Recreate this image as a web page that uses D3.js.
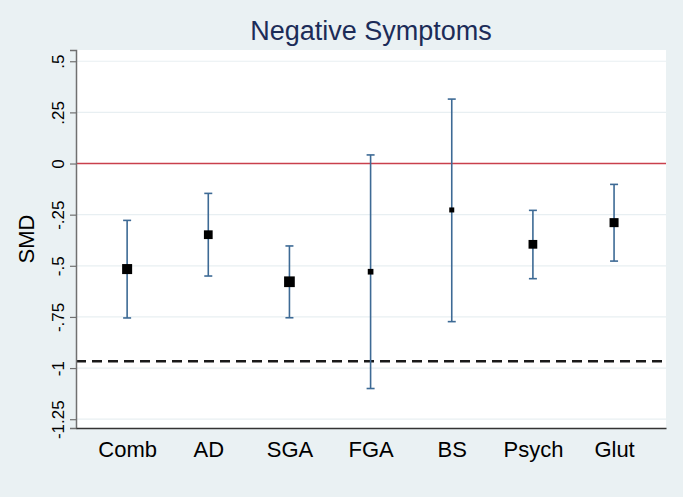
<!DOCTYPE html>
<html>
<head>
<meta charset="utf-8">
<script src="https://cdn.jsdelivr.net/npm/d3@7"></script>
<style>
  html, body { margin: 0; padding: 0; background: #eaf1f3; }
  #chart { width: 683px; height: 497px; }
  text { font-family: "Liberation Sans", Arial, Helvetica, sans-serif; }
</style>
</head>
<body>
<div id="chart"></div>
<script>
// groups along the x axis
const categories = ["Comb", "AD", "SGA", "FGA", "BS", "Psych", "Glut"];
// pooled SMD with its confidence interval
const smd   = [-0.516, -0.348, -0.578, -0.529, -0.227, -0.395, -0.289];
const lower = [-0.755, -0.550, -0.754, -1.100, -0.773, -0.563, -0.477];
const upper = [-0.278, -0.146, -0.403,  0.042,  0.315, -0.229, -0.102];
// relative weight of each estimate (marker area)
const weights = [100, 76, 114, 32, 25, 76, 81];
// reference lines
const nullValue = 0;
const dashedValue = -0.967;
// y axis ticks
const yTicks = [0.5, 0.25, 0, -0.25, -0.5, -0.75, -1, -1.25];
const yTickLabels = [".5", ".25", "0", "-.25", "-.5", "-.75", "-1", "-1.25"];

function drawChart(container) {
    const width = 683, height = 497,
          margin = {top: 50, right: 17, bottom: 69, left: 76},
          innerWidth = width - margin.left - margin.right,
          innerHeight = height - margin.top - margin.bottom;

    const svg = d3.select(container).append("svg")
        .attr("width", width)
        .attr("height", height);

    svg.append("rect")
        .attr("width", width).attr("height", height)
        .attr("fill", "#eaf1f3");

    const viz = svg.append("g")
        .attr("transform", `translate(${margin.left},${margin.top})`);

    viz.append("rect")
        .attr("width", innerWidth).attr("height", innerHeight)
        .attr("fill", "#ffffff");

    const x = d3.scaleLinear()
        .domain([0.37, 7.64])
        .range([0, innerWidth]);

    const y = d3.scaleLinear()
        .domain([-1.293, 0.555])
        .range([innerHeight, 0]);

    const size = d3.scaleSqrt()
        .domain([0, d3.max(weights)])
        .range([0, 10.7]);

    // gridlines
    viz.append("g").selectAll("line")
        .data(yTicks)
        .enter().append("line")
        .attr("x1", 0).attr("x2", innerWidth)
        .attr("y1", d => y(d)).attr("y2", d => y(d))
        .attr("stroke", "#e8eff2")
        .attr("stroke-width", 1.2);

    // reference lines
    viz.append("line")
        .attr("x1", 0).attr("x2", innerWidth)
        .attr("y1", y(nullValue)).attr("y2", y(nullValue))
        .attr("stroke", "#c9404d")
        .attr("stroke-width", 1.5);

    viz.append("line")
        .attr("x1", 0).attr("x2", innerWidth)
        .attr("y1", y(dashedValue)).attr("y2", y(dashedValue))
        .attr("stroke", "#1a1a1a")
        .attr("stroke-width", 2.4)
        .attr("stroke-dasharray", "10,6");

    // y axis
    const yAxis = d3.axisLeft(y)
        .tickValues(yTicks)
        .tickFormat((d, i) => yTickLabels[i])
        .tickSize(6)
        .tickPadding(0);

    const ya = viz.append("g").call(yAxis);
    ya.select(".domain").attr("stroke", "#707070").attr("stroke-width", 1.5);
    ya.selectAll(".tick line").attr("stroke", "#707070").attr("stroke-width", 1.2);
    ya.selectAll(".tick text")
        .attr("transform", "rotate(-90)")
        .attr("x", 0).attr("y", -12)
        .attr("dy", 0)
        .attr("text-anchor", "middle")
        .attr("fill", "#000")
        .style("font-size", "17px");

    // x axis
    const xAxis = d3.axisBottom(x)
        .tickValues(d3.range(1, categories.length + 1))
        .tickFormat(d => categories[d - 1])
        .tickSize(0)
        .tickPadding(13);

    const xa = viz.append("g")
        .attr("transform", `translate(0,${innerHeight})`)
        .call(xAxis);
    xa.select(".domain").attr("stroke", "#333").attr("stroke-width", 1.5);
    xa.selectAll(".tick text")
        .attr("fill", "#000")
        .style("font-size", "22px");

    // error bars
    const bars = viz.append("g").selectAll("g")
        .data(categories)
        .enter().append("g")
        .attr("stroke", "#3d6a95")
        .attr("stroke-width", 1.6);

    bars.append("line")
        .attr("x1", (d, i) => x(i + 1)).attr("x2", (d, i) => x(i + 1))
        .attr("y1", (d, i) => y(upper[i])).attr("y2", (d, i) => y(lower[i]));
    bars.append("line")
        .attr("x1", (d, i) => x(i + 1) - 4).attr("x2", (d, i) => x(i + 1) + 4)
        .attr("y1", (d, i) => y(upper[i])).attr("y2", (d, i) => y(upper[i]));
    bars.append("line")
        .attr("x1", (d, i) => x(i + 1) - 4).attr("x2", (d, i) => x(i + 1) + 4)
        .attr("y1", (d, i) => y(lower[i])).attr("y2", (d, i) => y(lower[i]));

    // point estimates
    viz.append("g").selectAll("rect")
        .data(categories)
        .enter().append("rect")
        .attr("x", (d, i) => x(i + 1) - size(weights[i]) / 2)
        .attr("y", (d, i) => y(smd[i]) - size(weights[i]) / 2)
        .attr("width", (d, i) => size(weights[i]))
        .attr("height", (d, i) => size(weights[i]))
        .attr("fill", "#000");

    // titles
    svg.append("text")
        .attr("x", margin.left + innerWidth / 2)
        .attr("y", 40)
        .attr("text-anchor", "middle")
        .attr("fill", "#1c2c58")
        .style("font-size", "27px")
        .text("Negative Symptoms");

    svg.append("text")
        .attr("transform", `translate(34,${margin.top + innerHeight / 2}) rotate(-90)`)
        .attr("text-anchor", "middle")
        .attr("fill", "#000")
        .style("font-size", "22px")
        .text("SMD");
}

drawChart("#chart");
</script>
</body>
</html>
